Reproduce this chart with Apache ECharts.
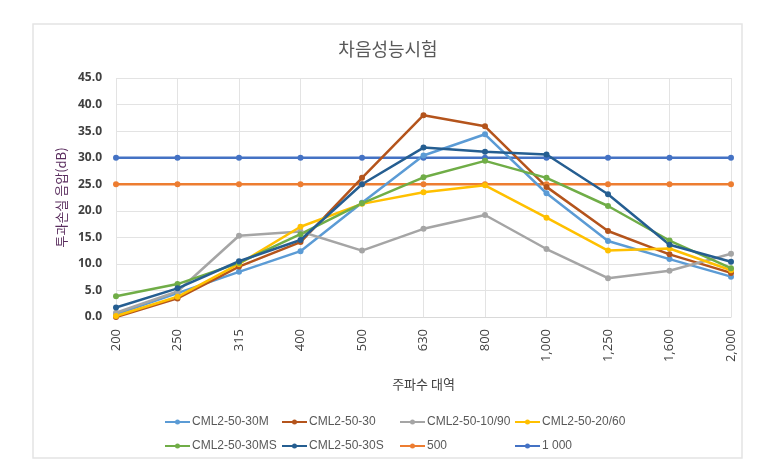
<!DOCTYPE html>
<html><head><meta charset="utf-8">
<script src="https://cdn.jsdelivr.net/npm/echarts@6/dist/echarts.min.js"></script>
<style>html,body{margin:0;padding:0;background:#fff}#c{width:776px;height:463px}</style>
</head><body><div id="c"></div>
<script>
const categories = ['200','250','315','400','500','630','800','1,000','1,250','1,600','2,000'];
const yTicks = [0,5,10,15,20,25,30,35,40,45];
const s30M   = [0.5, 4.5, 8.5, 12.4, 21.5, 30.4, 34.4, 23.3, 14.3, 10.9, 7.6];
const s30    = [0.0, 3.5, 9.5, 14.1, 26.2, 38.0, 35.9, 24.5, 16.2, 11.8, 8.3];
const s1090  = [0.8, 4.8, 15.3, 16.1, 12.5, 16.6, 19.2, 12.8, 7.3, 8.7, 11.9];
const s2060  = [0.2, 3.8, 10.0, 17.0, 21.3, 23.5, 24.8, 18.7, 12.5, 12.9, 8.8];
const s30MS  = [3.9, 6.2, 10.2, 15.6, 21.4, 26.3, 29.4, 26.2, 20.9, 14.4, 9.2];
const s30S   = [1.8, 5.4, 10.5, 14.5, 25.0, 31.9, 31.1, 30.6, 23.1, 13.6, 10.4];
const s500   = [25,25,25,25,25,25,25,25,25,25,25];
const s1000  = [30,30,30,30,30,30,30,30,30,30,30];

const names = ['CML2-50-30M','CML2-50-30','CML2-50-10/90','CML2-50-20/60','CML2-50-30MS','CML2-50-30S','500','1 000'];
const datas = [s30M,s30,s1090,s2060,s30MS,s30S,s500,s1000];
const colors = ['#5B9BD5','#B4541C','#A5A5A5','#FFC000','#70AD47','#255E91','#ED7D31','#4472C4'];
const order = [6,7,0,1,2,3,4,5];

const series = order.map(i => ({
  name: names[i], type: 'line', data: datas[i],
  symbol: 'circle', symbolSize: 6,
  lineStyle: {width: 2.5, color: colors[i]},
  itemStyle: {color: colors[i]},
  emphasis: {disabled: true}
}));

const legendLeft = [160,277,395,510];
const legendTop = [411,435];
const legends = names.map((n,i) => ({
  data: [n],
  left: legendLeft[i%4], top: legendTop[Math.floor(i/4)],
  itemWidth: 25, itemHeight: 5, itemGap: 0,
  icon: 'path://M0,3H25V5H0Z M10,4A2.5,2.5,0,1,1,15,4A2.5,2.5,0,1,1,10,4Z',
  textStyle: {fontSize: 12, color: '#595959', fontFamily: 'Liberation Sans, Arial, sans-serif', padding:[0,0,0,-3]},
  selectedMode: false
}));

const chart = echarts.init(document.getElementById('c'), null, {renderer:'canvas'});
chart.setOption({
  animation: false,
  backgroundColor: '#fff',
  title: {text: '차음성능시험', left: 'center', top: 35,
    textStyle: {fontSize: 18, fontWeight: 'normal', color: '#595959', fontFamily: 'Noto Sans CJK KR'}},
  graphic: [{type:'rect', shape:{x:33,y:24,width:709,height:434},
    style:{fill:'none', stroke:'#e4e4e4', lineWidth:1.5}, silent:true}],
  legend: legends,
  grid: {left: 116, right: 45, top: 78, bottom: 146},
  xAxis: {
    type: 'category', data: categories, boundaryGap: false,
    name: '주파수 대역', nameLocation: 'middle', nameGap: 61,
    nameTextStyle: {fontSize: 13, color: '#404040', fontFamily: 'Noto Sans CJK KR'},
    axisLine: {lineStyle: {color: '#d9d9d9'}},
    axisTick: {show: false},
    axisLabel: {rotate: 90, fontSize: 13, color: '#404040', margin: 12, fontFamily: 'Open Sans, sans-serif'},
    splitLine: {show: true, lineStyle: {color: '#e3e3e3'}}
  },
  yAxis: {
    type: 'value', min: yTicks[0], max: yTicks[yTicks.length-1], interval: 5,
    name: '투과손실 음압(dB)', nameLocation: 'middle', nameGap: 48,
    nameTextStyle: {fontSize: 13, color: '#5a2d5e', fontFamily: 'Noto Sans CJK KR'},
    axisLine: {show: false}, axisTick: {show: false},
    axisLabel: {fontSize: 12, fontWeight: 'bold', color: '#404040', margin: 14,
      fontFamily: 'Open Sans, sans-serif', formatter: v => v.toFixed(1)},
    splitLine: {lineStyle: {color: '#e3e3e3'}}
  },
  series: series
});
</script></body></html>
